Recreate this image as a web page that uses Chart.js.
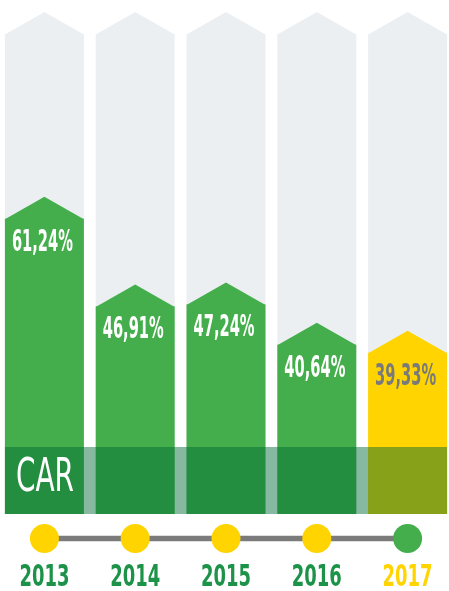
<!DOCTYPE html>
<html>
<head>
<meta charset="utf-8">
<script src="https://cdn.jsdelivr.net/npm/chart.js@4.4.1/dist/chart.umd.min.js"></script>
<style>
  html, body { margin: 0; padding: 0; background: #fff; overflow: hidden; }
  #wrap { position: relative; width: 449px; height: 591px; overflow: hidden; }
  #grafico { position: absolute; left: -1px; top: 0; }
</style>
</head>
<body>
<div id="wrap"><canvas id="grafico" width="454" height="591"></canvas></div>
<script>
// Datos
const anos = ['2013', '2014', '2015', '2016', '2017'];
const valoresCar = [61.24, 46.91, 47.24, 40.64, 39.33];
const fondo = [91.4, 91.4, 91.4, 91.4, 91.4];
const textoFranja = 'CAR';

// Colores
const coloresBarra = ['#43ae4b', '#43ae4b', '#43ae4b', '#43ae4b', '#ffd400'];
const coloresEtiqueta = ['#ffffff', '#ffffff', '#ffffff', '#ffffff', '#7a7a7a'];
const coloresAno = ['#1d9349', '#1d9349', '#1d9349', '#1d9349', '#ffd400'];
const coloresPunto = ['#ffd400', '#ffd400', '#ffd400', '#ffd400', '#43ae4b'];

const FUENTE = '"DejaVu Sans Condensed", "Liberation Sans", sans-serif';
const PICO = 22;

// Texto angosto: se escala en horizontal hasta el ancho pedido
// (la fuente original es muy condensada)
const textoAngosto = (ctx, texto, x, base, fuente, ancho, color, align) => {
  ctx.save();
  ctx.font = fuente;
  ctx.fillStyle = color;
  ctx.textAlign = align;
  ctx.textBaseline = 'alphabetic';
  const escala = ancho / ctx.measureText(texto).width;
  ctx.translate(x, base);
  ctx.scale(escala, 1);
  ctx.fillText(texto, 0, 0);
  ctx.restore();
};

const pluginForma = {
  id: 'forma',
  // Punta de flecha encima de cada barra
  afterDatasetDraw(chart, args) {
    const ctx = chart.ctx;
    args.meta.data.forEach(bar => {
      const { x, y, width } = bar.getProps(['x', 'y', 'width'], true);
      ctx.save();
      ctx.fillStyle = bar.options.backgroundColor;
      ctx.beginPath();
      ctx.moveTo(x - width / 2, y + 0.5);
      ctx.lineTo(x, y - PICO);
      ctx.lineTo(x + width / 2, y + 0.5);
      ctx.closePath();
      ctx.fill();
      ctx.restore();
    });
  },
  afterDatasetsDraw(chart) {
    const ctx = chart.ctx;
    const area = chart.chartArea;
    const barras = chart.getDatasetMeta(1).data;
    const primera = barras[0];
    const ultima = barras[barras.length - 1];
    const izq = primera.x - primera.width / 2;
    const der = ultima.x + ultima.width / 2;

    // Etiquetas de valor
    barras.forEach((bar, i) => {
      const texto = valoresCar[i].toFixed(2).replace('.', ',') + '%';
      textoAngosto(ctx, texto, bar.x - 2, bar.y + 32, 'bold 30px ' + FUENTE, 61, coloresEtiqueta[i], 'center');
    });

    // Franja CAR
    ctx.save();
    ctx.fillStyle = 'rgba(0, 104, 53, 0.47)';
    ctx.fillRect(izq, area.bottom - 67, der - izq, 67);
    ctx.restore();
    textoAngosto(ctx, textoFranja, izq + 11, area.bottom - 23.5, '47px ' + FUENTE, 58, '#ffffff', 'left');

    // Linea de tiempo
    const yLinea = area.bottom + 24.5;
    ctx.save();
    ctx.strokeStyle = '#7b7b7b';
    ctx.lineWidth = 5.5;
    ctx.beginPath();
    ctx.moveTo(primera.x, yLinea);
    ctx.lineTo(ultima.x, yLinea);
    ctx.stroke();
    barras.forEach((bar, i) => {
      ctx.fillStyle = coloresPunto[i];
      ctx.beginPath();
      ctx.arc(bar.x, yLinea, 14.5, 0, Math.PI * 2);
      ctx.fill();
    });
    ctx.restore();

    // Anos sobre el eje x
    const escalaX = chart.scales.x;
    anos.forEach((ano, i) => {
      textoAngosto(ctx, ano, escalaX.getPixelForValue(i), area.bottom + 72, 'bold 30px ' + FUENTE, 50, coloresAno[i], 'center');
    });
  }
};

new Chart(document.getElementById('grafico'), {
  type: 'bar',
  data: {
    labels: anos,
    datasets: [
      {
        label: 'fondo',
        data: fondo,
        backgroundColor: '#eceff2',
        grouped: false,
        order: 2,
        categoryPercentage: 1,
        barPercentage: 0.87
      },
      {
        label: textoFranja,
        data: valoresCar,
        backgroundColor: coloresBarra,
        grouped: false,
        order: 1,
        categoryPercentage: 1,
        barPercentage: 0.87
      }
    ]
  },
  options: {
    responsive: false,
    animation: false,
    devicePixelRatio: 1,
    layout: { padding: { top: 12, bottom: 77, left: 0, right: 0 } },
    plugins: {
      legend: { display: false },
      tooltip: { enabled: false }
    },
    scales: {
      x: { display: false },
      y: {
        display: false,
        min: 13,
        max: 95
      }
    }
  },
  plugins: [pluginForma]
});
</script>
</body>
</html>
